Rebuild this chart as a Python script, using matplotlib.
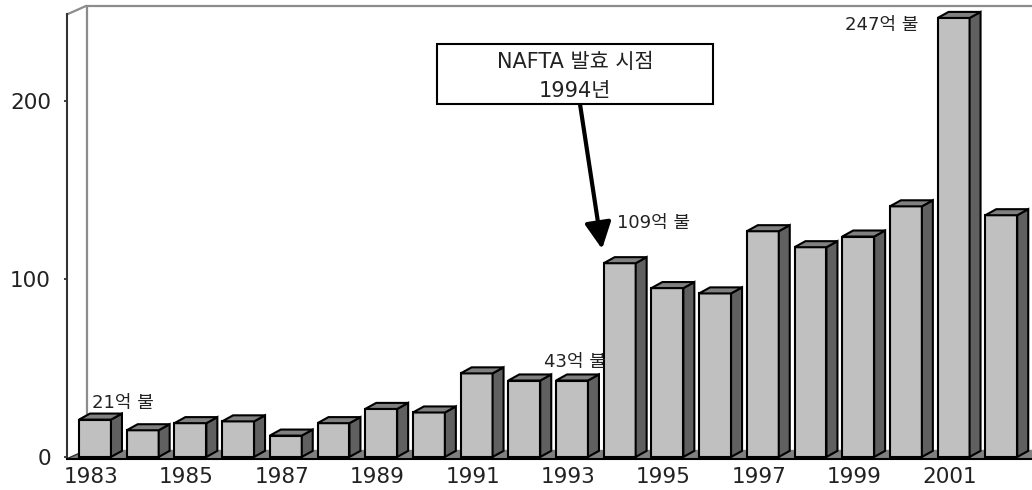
import matplotlib
matplotlib.use("Agg")
import matplotlib.pyplot as plt
import numpy as np
from matplotlib.patches import Polygon, Rectangle
from matplotlib.lines import Line2D
from matplotlib.transforms import ScaledTranslation

plt.rcParams["font.family"] = ["DejaVu Sans", "Noto Sans CJK KR"]

# ---- data -------------------------------------------------------------
years = list(range(1983, 2003))
values = [21, 15, 19, 20, 12, 19, 27, 25, 47, 43, 43, 109, 95, 92, 127, 118, 124, 141, 247, 136]
yticks = [0, 100, 200]
xtick_years = years[::2]
labelled_years = [1983, 1993, 1994, 2001]
unit = "억 불"
box_lines = ["NAFTA 발효 시점", "1994년"]
nafta_year = 1994

# ---- layout / style ---------------------------------------------------
W, H, DPI = 1032, 490, 100
FRONT, SIDE, TOP, FLOOR, WALL = "#c0c0c0", "#606060", "#808080", "#808080", "#8c8c8c"
TXT = "#222222"
bar_w = 0.67
bar_dx, bar_dy = 0.23, 3.4        # bar depth in data units
wall_dx, wall_dy = 0.42, 5.0      # chart depth in data units
xlo, ylo, yhi = -0.587, -1.0, 249.0


def fx(px):
    return px / W


def fy(py):
    return 1 - py / H


fig = plt.figure(figsize=(W / DPI, H / DPI), dpi=DPI)
ax_l, ax_r, ax_t, ax_b = 67, 1032, 14.4, 458.7
ax = fig.add_axes([fx(ax_l), fy(ax_b), (ax_r - ax_l) / W, (ax_b - ax_t) / H])

x = np.arange(len(years))
xhi = xlo + (ax_r - ax_l) / 47.7
ax.set_xlim(xlo, xhi)
ax.set_ylim(ylo, yhi)

# floor and back wall
floor = Polygon([(xlo, ylo), (xhi + 1, ylo), (xhi + 1 + wall_dx, ylo + wall_dy),
                 (xlo + wall_dx, ylo + wall_dy)], closed=True,
                facecolor=FLOOR, edgecolor="none", zorder=1, clip_on=False)
ax.add_patch(floor)
ax.add_line(Line2D([xlo, xlo + wall_dx], [ylo, ylo + wall_dy], color="#333333",
                   lw=1.0, zorder=1.5, clip_on=False))
wall_kw = dict(color=WALL, lw=1.6, zorder=1.2, clip_on=False, solid_capstyle="butt")
ax.add_line(Line2D([xlo, xlo + wall_dx], [yhi, yhi + wall_dy], **wall_kw))
ax.add_line(Line2D([xlo + wall_dx, xlo + wall_dx], [ylo + wall_dy, yhi + wall_dy], **wall_kw))
ax.add_line(Line2D([xlo + wall_dx, xhi + 2], [yhi + wall_dy, yhi + wall_dy], **wall_kw))

# 3-D columns: front face from ax.bar, side and top faces from the same values
edge_kw = dict(edgecolor="black", linewidth=1.5, joinstyle="miter", clip_on=False)
ax.bar(x, values, width=bar_w, bottom=0, color=FRONT, zorder=3, **edge_kw)
hw = bar_w / 2
for i, v in zip(x, values):
    side = Polygon([(i + hw, 0), (i + hw + bar_dx, bar_dy), (i + hw + bar_dx, v + bar_dy),
                    (i + hw, v)], closed=True, facecolor=SIDE, zorder=3, **edge_kw)
    top = Polygon([(i - hw, v), (i + hw, v), (i + hw + bar_dx, v + bar_dy),
                   (i - hw + bar_dx, v + bar_dy)], closed=True, facecolor=TOP, zorder=3, **edge_kw)
    ax.add_patch(side)
    ax.add_patch(top)

# axes
for s in ("top", "right"):
    ax.spines[s].set_visible(False)
ax.spines["left"].set_color("#333333")
ax.spines["left"].set_linewidth(1.5)
ax.spines["bottom"].set_color("black")
ax.spines["bottom"].set_linewidth(1.5)
ax.spines["left"].set_zorder(2)
ax.spines["bottom"].set_zorder(2)

ax.set_yticks(yticks)
ax.tick_params(axis="y", length=2.5, width=1.2, pad=9, labelsize=15.5, colors=TXT)
ax.set_xticks([years.index(y) for y in xtick_years])
ax.set_xticklabels([str(y) for y in xtick_years])
ax.tick_params(axis="x", length=0, pad=6, labelsize=15.5, colors=TXT)
shift = ScaledTranslation(-4 / DPI, 0, fig.dpi_scale_trans)
for lab in ax.get_xticklabels():
    lab.set_transform(lab.get_transform() + shift)

# value labels above selected columns (offsets in points)
label_pos = {1983: (19.8, 12.0, "center"), 1993: (2.2, 13.3, "center"),
             1994: (24.5, 28.8, "center"), 2001: (-25.6, -5.0, "right")}
for yr in labelled_years:
    i = years.index(yr)
    v = values[i]
    dx, dy, ha = label_pos[yr]
    ax.annotate(f"{v}{unit}", xy=(i, v), xytext=(dx, dy), textcoords="offset points",
                ha=ha, va="center", fontsize=13, color=TXT, zorder=5)

# NAFTA call-out box and arrow
box = Rectangle((fx(437), fy(104)), (713 - 437) / W, 60 / H, transform=fig.transFigure,
                facecolor="white", edgecolor="black", linewidth=1.5, zorder=6)
fig.add_artist(box)
fig.text(fx(575), fy(62), box_lines[0], ha="center", va="center", fontsize=15,
         color=TXT, zorder=7)
fig.text(fx(575), fy(91), box_lines[1], ha="center", va="center", fontsize=15,
         color=TXT, zorder=7)

i94 = years.index(nafta_year)
ax.annotate("", xy=(i94 - 0.37, values[i94] + 8), xycoords="data",
            xytext=(fx(580), fy(104)), textcoords="figure fraction",
            arrowprops=dict(arrowstyle="-|>,head_width=0.4,head_length=0.8",
                            lw=3, color="black", mutation_scale=20,
                            shrinkA=0, shrinkB=0), zorder=6)

fig.savefig("out.png", dpi=DPI)
